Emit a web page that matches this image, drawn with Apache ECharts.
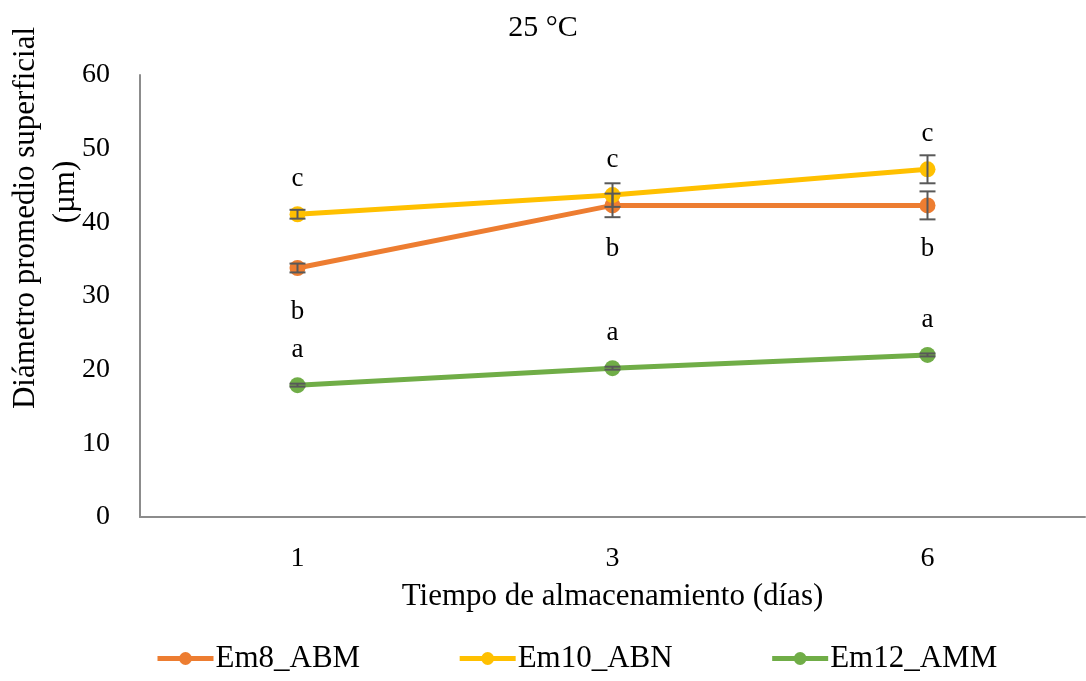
<!DOCTYPE html>
<html>
<head>
<meta charset="utf-8">
<script src="https://cdn.jsdelivr.net/npm/echarts@6/dist/echarts.min.js"></script>
<style>
  html, body { margin: 0; padding: 0; background: #fff; }
  #chart { width: 1086px; height: 681px; }
</style>
</head>
<body>
<div id="chart"></div>
<script>
// Data
const days = ["1", "3", "6"];
const em8 = [33.8, 42.3, 42.3];
const em10 = [41.1, 43.7, 47.2];
const em12 = [17.9, 20.2, 22.0];
const em8Err = [0.6, 1.6, 1.9];
const em10Err = [0.6, 1.6, 1.9];
const em12Err = [0.2, 0.2, 0.2];
const em8Letters = ["b", "b", "b"];
const em10Letters = ["c", "c", "c"];
const em12Letters = ["a", "a", "a"];

const FONT = "'Liberation Serif', 'Times New Roman', serif";
const colors = { em8: "#ED7D31", em10: "#FFC000", em12: "#70AD47" };

// Build [index, value, err] rows for the error bar series
const errRows = (vals, errs) => vals.map((v, i) => [i, v, errs[i]]);

const errorBars = (name, vals, errs) => ({
  name: name + "_err",
  type: "custom",
  z: 5,
  data: errRows(vals, errs),
  encode: { x: 0, y: 1 },
  renderItem: (params, api) => {
    const i = api.value(0);
    const v = api.value(1);
    const e = api.value(2);
    const top = api.coord([i, v + e]);
    const bot = api.coord([i, v - e]);
    const hw = 8;
    const style = { stroke: "#595959", lineWidth: 2 };
    return {
      type: "group",
      children: [
        { type: "line", shape: { x1: top[0], y1: top[1], x2: bot[0], y2: bot[1] }, style },
        { type: "line", shape: { x1: top[0] - hw, y1: top[1], x2: top[0] + hw, y2: top[1] }, style },
        { type: "line", shape: { x1: bot[0] - hw, y1: bot[1], x2: bot[0] + hw, y2: bot[1] }, style },
      ],
    };
  },
});

const lineSeries = (name, vals, color, letters, position, distance) => ({
  name,
  type: "line",
  data: vals,
  symbol: "circle",
  symbolSize: 16,
  lineStyle: { color, width: 5 },
  itemStyle: { color },
  label: {
    show: true,
    position,
    distance,
    formatter: (p) => letters[p.dataIndex],
    fontFamily: FONT,
    fontSize: 27,
    color: "#000",
  },
  z: 3,
});

const option = {
  animation: false,
  title: {
    text: "25 °C",
    left: "center",
    top: 8,
    textStyle: { fontFamily: FONT, fontSize: 30, fontWeight: "normal", color: "#000" },
  },
  grid: { left: 140, right: 1, top: 75, bottom: 164 },
  legend: {
    data: ["Em8_ABM", "Em10_ABN", "Em12_AMM"],
    bottom: 2,
    left: 150,
    itemWidth: 56,
    itemHeight: 16,
    itemGap: 97,
    lineStyle: { width: 5 },
    textStyle: { fontFamily: FONT, fontSize: 31, color: "#000", padding: [0, 0, 0, -3] },
  },
  xAxis: {
    type: "category",
    data: days,
    boundaryGap: true,
    axisTick: { show: false },
    axisLine: { lineStyle: { color: "#8c8c8c", width: 2 } },
    axisLabel: { fontFamily: FONT, fontSize: 28, color: "#000", margin: 28 },
    name: "Tiempo de almacenamiento (días)",
    nameLocation: "middle",
    nameGap: 64,
    nameTextStyle: { fontFamily: FONT, fontSize: 31, color: "#000" },
  },
  yAxis: {
    type: "value",
    min: 0,
    max: 60,
    interval: 10,
    axisLine: { show: true, lineStyle: { color: "#8c8c8c", width: 2 } },
    axisTick: { show: false },
    splitLine: { show: false },
    axisLabel: { fontFamily: FONT, fontSize: 28, color: "#000", margin: 30 },
  },
  graphic: [
    {
      type: "text",
      x: 26,
      y: 218,
      rotation: Math.PI / 2,
      style: {
        text: "Diámetro promedio superficial",
        fontFamily: FONT,
        fontSize: 31,
        fill: "#000",
        align: "center",
        verticalAlign: "middle",
      },
    },
    {
      type: "text",
      x: 66,
      y: 192,
      rotation: Math.PI / 2,
      style: {
        text: "(µm)",
        fontFamily: FONT,
        fontSize: 31,
        fill: "#000",
        align: "center",
        verticalAlign: "middle",
      },
    },
  ],
  series: [
    lineSeries("Em8_ABM", em8, colors.em8, em8Letters, "bottom", 22),
    lineSeries("Em10_ABN", em10, colors.em10, em10Letters, "top", 14),
    lineSeries("Em12_AMM", em12, colors.em12, em12Letters, "top", 14),
    errorBars("Em8_ABM", em8, em8Err),
    errorBars("Em10_ABN", em10, em10Err),
    errorBars("Em12_AMM", em12, em12Err),
  ],
};

const chart = echarts.init(document.getElementById("chart"));
chart.setOption(option);
</script>
</body>
</html>
